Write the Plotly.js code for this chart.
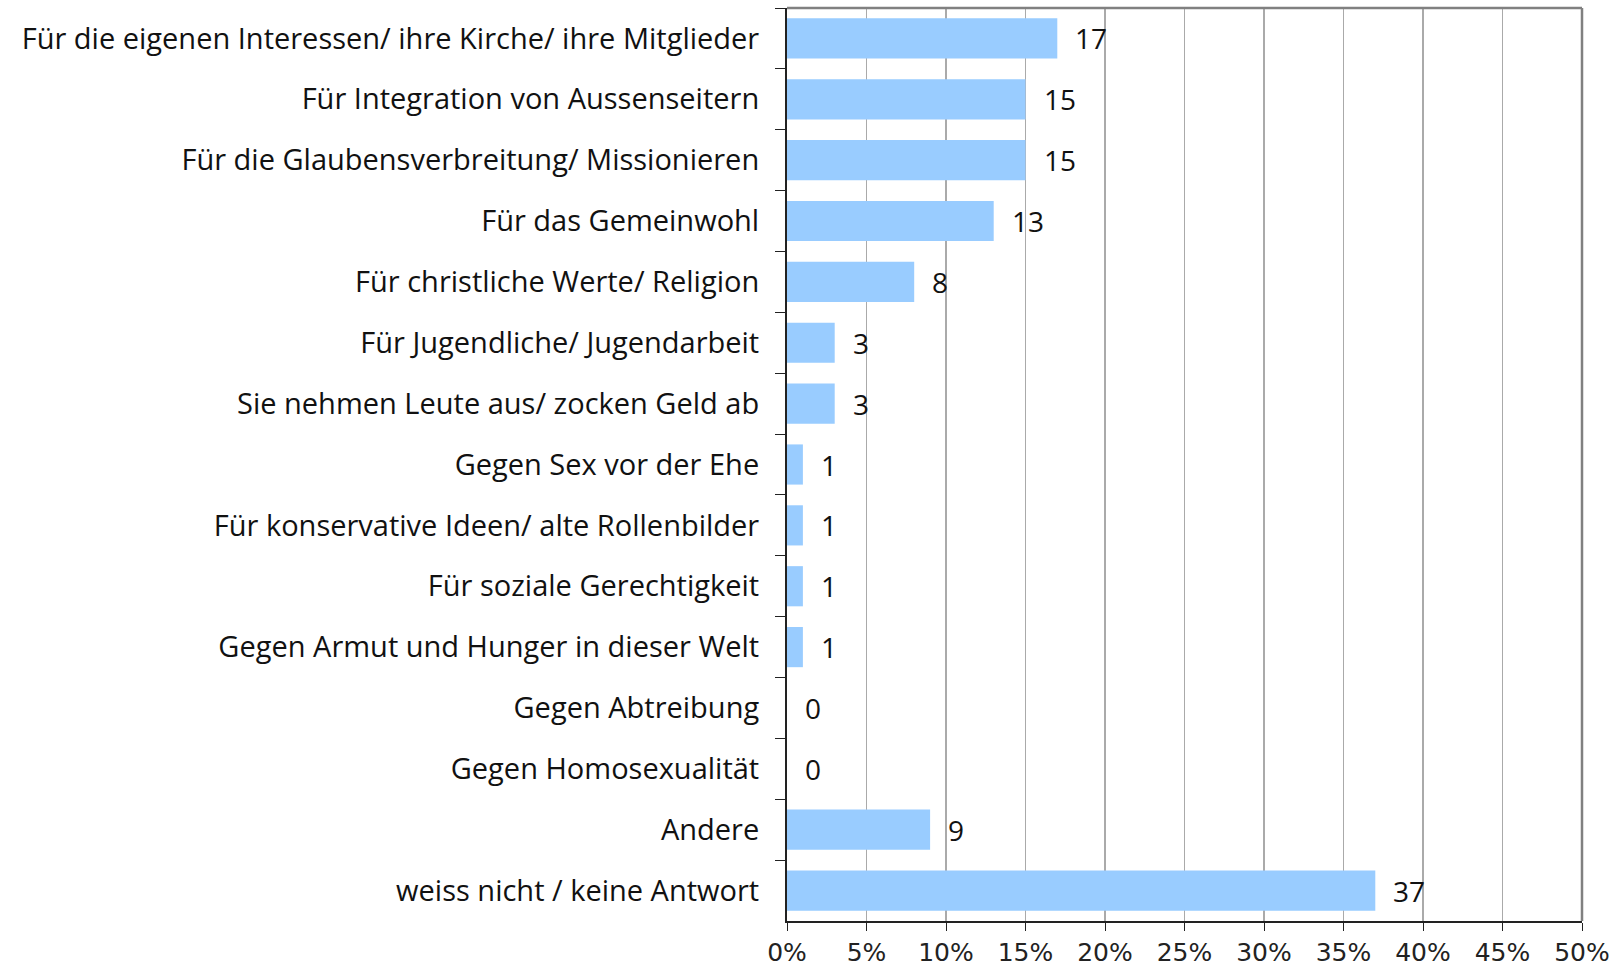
<!DOCTYPE html>
<html>
<head>
<meta charset="utf-8">
<script src="https://cdn.plot.ly/plotly-3.0.1.min.js"></script>
<style>
  body { margin: 0; background: #fff; }
  #chart { width: 1609px; height: 966px; }
</style>
</head>
<body>
<div id="chart"></div>
<script>
var categories = [
  'Für die eigenen Interessen/ ihre Kirche/ ihre Mitglieder',
  'Für Integration von Aussenseitern',
  'Für die Glaubensverbreitung/ Missionieren',
  'Für das Gemeinwohl',
  'Für christliche Werte/ Religion',
  'Für Jugendliche/ Jugendarbeit',
  'Sie nehmen Leute aus/ zocken Geld ab',
  'Gegen Sex vor der Ehe',
  'Für konservative Ideen/ alte Rollenbilder',
  'Für soziale Gerechtigkeit',
  'Gegen Armut und Hunger in dieser Welt',
  'Gegen Abtreibung',
  'Gegen Homosexualität',
  'Andere',
  'weiss nicht / keine Antwort'
];
var values = [17, 15, 15, 13, 8, 3, 3, 1, 1, 1, 1, 0, 0, 9, 37];
var xTicks = [0, 5, 10, 15, 20, 25, 30, 35, 40, 45, 50];

var labelFont = { family: 'Open Sans, sans-serif', size: 29, color: '#111' };

var trace = {
  type: 'bar',
  orientation: 'h',
  x: values,
  y: categories,
  marker: { color: '#99ccff' },
  hoverinfo: 'x+y'
};

var notes = values.map(function (v, i) {
  return {
    x: v, y: categories[i], xref: 'x', yref: 'y',
    text: String(v), showarrow: false,
    xanchor: 'left', xshift: 16,
    font: { family: 'Open Sans, sans-serif', size: 28, color: '#111' }
  };
});

var layout = {
  width: 1609,
  height: 966,
  margin: { l: 787, r: 27, t: 8, b: 45 },
  paper_bgcolor: '#fff',
  plot_bgcolor: '#fff',
  showlegend: false,
  bargap: 0.34,
  xaxis: {
    range: [0, 50.0001],
    tickvals: xTicks,
    ticktext: xTicks.map(function (t) { return t + '%'; }),
    ticklabeloverflow: 'allow',
    showgrid: true,
    gridcolor: '#aaaaaa',
    gridwidth: 1.5,
    zeroline: false,
    showline: true,
    linecolor: '#222',
    linewidth: 2,
    ticks: 'outside',
    ticklen: 8,
    tickcolor: '#222',
    tickfont: { family: 'DejaVu Sans, sans-serif', size: 25, color: '#222' },
    fixedrange: true
  },
  yaxis: {
    type: 'category',
    autorange: 'reversed',
    showgrid: false,
    zeroline: false,
    showline: true,
    linecolor: '#222',
    linewidth: 2,
    ticks: 'outside',
    tickson: 'boundaries',
    ticklen: 10,
    tickcolor: '#222',
    ticklabelstandoff: 20,
    tickfont: labelFont,
    fixedrange: true
  },
  annotations: notes,
  shapes: [
    { type: 'line', xref: 'paper', yref: 'paper', x0: 0, x1: 1, y0: 1, y1: 1,
      line: { color: '#808080', width: 2.5 } },
    { type: 'line', xref: 'paper', yref: 'paper', x0: 1, x1: 1, y0: 0, y1: 1,
      line: { color: '#808080', width: 2.5 } }
  ]
};

Plotly.newPlot('chart', [trace], layout, { displayModeBar: false, staticPlot: true });
</script>
</body>
</html>
